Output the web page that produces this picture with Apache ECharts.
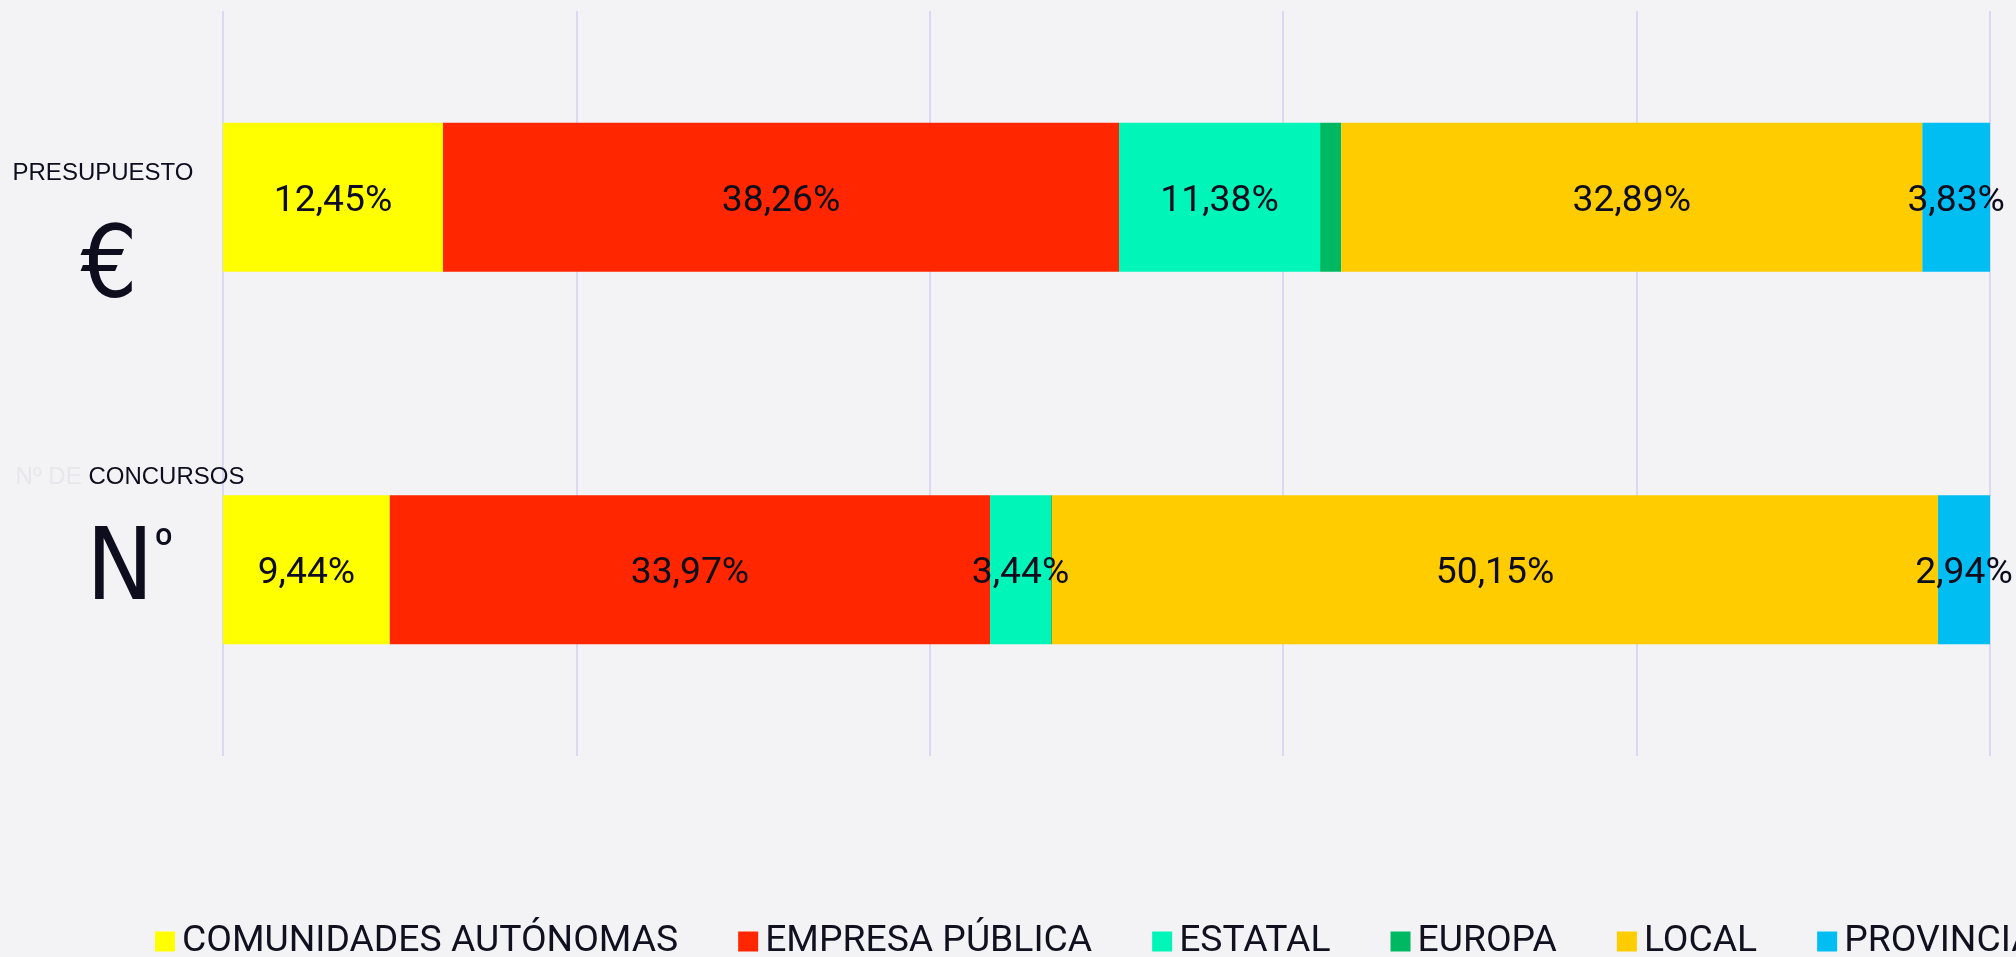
<!DOCTYPE html>
<html>
<head>
<meta charset="utf-8">
<title>Presupuesto y concursos</title>
<script src="https://cdn.jsdelivr.net/npm/echarts@6/dist/echarts.min.js"></script>
<style>
  html, body { margin: 0; padding: 0; background: #f3f3f6; }
  #chart { width: 2016px; height: 957px; }
</style>
</head>
<body>
<div id="chart"></div>
<script>
const categories = ['PRESUPUESTO', 'Nº DE CONCURSOS']
const seriesNames = ['COMUNIDADES AUTÓNOMAS', 'EMPRESA PÚBLICA', 'ESTATAL', 'EUROPA', 'LOCAL', 'PROVINCIAL']
const comunidades = [12.45, 9.44]
const empresaPublica = [38.26, 33.97]
const estatal = [11.38, 3.44]
const europa = [1.19, 0.06]
const local = [32.89, 50.15]
const provincial = [3.83, 2.94]
const xTicks = [0, 20, 40, 60, 80, 100]

const colors = ['#ffff00', '#ff2600', '#00f5b9', '#00b862', '#ffcc00', '#00bef2']
const values = [comunidades, empresaPublica, estatal, europa, local, provincial]

const chart = echarts.init( document.getElementById( 'chart' ) )

// etiquetas del eje: texto pequeño arriba y símbolo grande debajo
const labelFormatter = ( value, index ) => {
  if ( index === 0 ) {
    return '{p1|PRESUPUESTO}\n{e1|€}'
  }
  return '{f2|Nº DE }{c2|CONCURSOS}\n{n2|N}{o2|º}\n{s2| }'
}

chart.setOption( {
  backgroundColor : '#f3f3f6',
  color : colors,
  legend : {
    left : 150,
    top : 918,
    width : 3000,
    icon : 'rect',
    itemWidth : 20,
    itemHeight : 20,
    itemGap : 60,
    data : seriesNames,
    textStyle : {
      fontFamily : 'Roboto',
      fontSize : 37.3,
      color : '#10101f',
      padding : [0, 0, 0, 2]
    }
  },
  grid : {
    left : 223,
    right : 26,
    top : 11,
    bottom : 201,
    containLabel : false
  },
  xAxis : {
    type : 'value',
    min : xTicks[0],
    max : xTicks[xTicks.length - 1],
    interval : xTicks[1] - xTicks[0],
    axisLine : { show : false },
    axisTick : { show : false },
    axisLabel : { show : false },
    splitLine : {
      show : true,
      lineStyle : {
        color : '#dad8f2',
        width : 2
      }
    }
  },
  yAxis : {
    type : 'category',
    inverse : true,
    data : categories,
    axisLine : { show : false },
    axisTick : { show : false },
    splitLine : { show : false },
    axisLabel : {
      interval : 0,
      margin : 93,
      align : 'center',
      verticalAlign : 'middle',
      formatter : labelFormatter,
      rich : {
        p1 : {
          fontFamily : 'Liberation Sans',
          fontSize : 24,
          color : '#0d0d1e',
          lineHeight : 148,
          padding : [0, 54, 0, 0]
        },
        e1 : {
          fontFamily : 'DejaVu Sans Condensed, Liberation Sans Narrow, Liberation Sans',
          fontSize : 100,
          color : '#0d0d1e',
          lineHeight : 48,
          padding : [0, 42, 0, 0]
        },
        f2 : {
          fontFamily : 'Liberation Sans',
          fontSize : 24,
          color : '#e6e6ec',
          lineHeight : 49
        },
        c2 : {
          fontFamily : 'Liberation Sans',
          fontSize : 24,
          color : '#0d0d1e',
          lineHeight : 49
        },
        n2 : {
          fontFamily : 'DejaVu Sans Condensed, Liberation Sans Narrow, Liberation Sans',
          fontSize : 100,
          color : '#0d0d1e',
          lineHeight : 143
        },
        o2 : {
          fontFamily : 'Roboto',
          fontSize : 44,
          color : '#0d0d1e',
          lineHeight : 143,
          verticalAlign : 'top',
          padding : [24, 0, 0, 0]
        },
        s2 : {
          fontSize : 10,
          lineHeight : 42
        }
      }
    }
  },
  series : seriesNames.map( ( name, i ) => ( {
    name : name,
    type : 'bar',
    stack : 'total',
    barWidth : '40%',
    label : {
      show : true,
      position : 'inside',
      offset : [0, 4],
      fontFamily : 'Roboto',
      fontSize : 37.3,
      color : '#0d0d1e',
      formatter : ( p ) => p.value < 2 ? '' : p.value.toFixed( 2 ).replace( '.', ',' ) + '%'
    },
    emphasis : { disabled : true },
    data : values[i]
  } ) )
} )
</script>
</body>
</html>
